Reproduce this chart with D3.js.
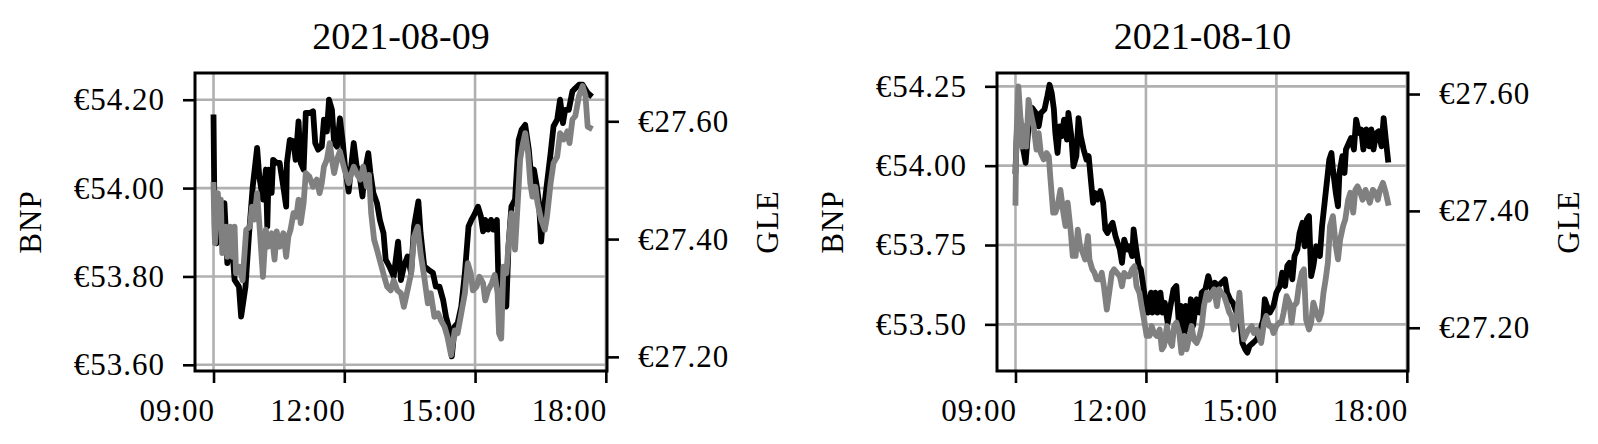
<!DOCTYPE html>
<html>
<head>
<meta charset="utf-8">
<script src="https://cdn.jsdelivr.net/npm/d3@7/dist/d3.min.js"></script>
<style>
  html, body { margin: 0; padding: 0; background: #fff; }
  svg { display: block; }
  text { font-family: "Liberation Serif", "Times New Roman", serif; fill: #000; }
</style>
</head>
<body>
<svg id="chart" width="1598" height="444"></svg>
<script>
// ---------- DATA ----------
const dates = ["2021-08-09", "2021-08-10"];
const seriesNames = ["BNP", "GLE"];
const timeTicks = ["09:00", "12:00", "15:00", "18:00"];
const bnpTicks1 = [53.60, 53.80, 54.00, 54.20];
const gleTicks1 = [27.20, 27.40, 27.60];
const bnpTicks2 = [53.50, 53.75, 54.00, 54.25];
const gleTicks2 = [27.20, 27.40, 27.60];

// minutes after 09:00 and prices, 2021-08-09
const bnp1Min = [0,1,4,9,15,19,24,29,35,38,44,49,54,60,63,68,72,74,76,80,82,87,91,96,100,101,105,110,113,117,120,124,127,133,137,140,144,149,152,156,159,163,166,170,174,178,181,186,189,193,197,200,205,208,213,216,220,225,229,234,237,242,248,254,258,262,267,272,276,282,285,290,296,302,306,311,316,320,325,328,332,336,341,346,351,355,359,364,368,371,374,378,382,385,390,392,396,403,406,410,415,420,424,429,434,438,441,445,448,451,454,459,464,468,473,477,481,484,489,494,498,503,508,512,515,518];
const bnp1 = [54.160,53.989,53.875,53.883,53.966,53.830,53.906,53.792,53.777,53.709,53.777,53.898,54.004,54.091,54.026,53.974,54.042,53.913,54.042,53.989,54.064,54.057,54.057,54.004,53.958,54.057,54.109,54.106,54.064,54.151,54.057,54.042,54.170,54.170,54.174,54.102,54.087,54.094,54.155,54.128,54.200,54.177,54.102,54.094,54.158,54.102,54.049,53.992,54.042,54.102,54.049,54.042,53.981,54.034,54.079,54.034,53.989,53.966,53.928,53.898,53.838,53.823,53.800,53.879,53.792,53.823,53.845,53.808,53.913,53.970,53.898,53.823,53.815,53.808,53.777,53.777,53.747,53.709,53.679,53.619,53.687,53.694,53.732,53.808,53.913,53.928,53.940,53.958,53.936,53.902,53.928,53.906,53.928,53.906,53.928,53.800,53.762,53.732,53.868,53.958,53.974,54.109,54.132,54.143,54.087,54.011,54.042,54.004,53.966,53.879,53.943,54.011,54.079,54.140,54.155,54.200,54.147,54.177,54.177,54.219,54.226,54.234,54.234,54.223,54.215,54.211];
const gle1Min = [0,1,2,6,8,10,12,17,19,23,26,29,31,36,40,45,50,53,56,60,64,68,72,75,80,84,87,91,96,100,103,106,110,114,117,120,124,127,132,137,142,146,149,152,156,160,163,166,170,174,178,181,186,190,193,198,202,206,211,214,217,221,225,230,235,239,244,248,253,258,262,267,272,276,281,285,290,295,299,304,309,313,318,322,327,332,336,341,346,350,354,357,362,366,371,374,378,383,387,391,393,396,399,403,407,410,415,419,422,425,429,433,436,439,443,446,451,456,459,464,468,473,477,482,487,490,494,498,503,508,512,515,518];
const gle1 = [27.492,27.427,27.393,27.478,27.421,27.467,27.376,27.421,27.370,27.421,27.370,27.421,27.342,27.353,27.330,27.416,27.421,27.455,27.433,27.478,27.410,27.336,27.416,27.387,27.410,27.365,27.413,27.387,27.410,27.370,27.404,27.416,27.444,27.438,27.467,27.427,27.461,27.512,27.506,27.489,27.501,27.478,27.495,27.523,27.535,27.563,27.535,27.512,27.535,27.549,27.529,27.515,27.495,27.512,27.523,27.509,27.501,27.523,27.489,27.509,27.444,27.399,27.382,27.359,27.336,27.319,27.313,27.330,27.313,27.308,27.285,27.313,27.342,27.404,27.421,27.376,27.336,27.291,27.308,27.268,27.274,27.262,27.251,27.234,27.203,27.245,27.240,27.274,27.308,27.359,27.342,27.313,27.319,27.336,27.325,27.296,27.313,27.325,27.339,27.308,27.240,27.231,27.353,27.342,27.404,27.444,27.382,27.467,27.535,27.557,27.580,27.546,27.495,27.472,27.489,27.461,27.433,27.416,27.438,27.495,27.529,27.540,27.580,27.569,27.583,27.563,27.603,27.609,27.643,27.660,27.643,27.591,27.589];

// minutes after 09:00 and prices, 2021-08-10
const bnp2Min = [0,2,6,9,14,18,23,28,32,35,40,44,47,50,53,55,58,61,64,67,71,73,77,80,84,87,90,94,98,101,104,107,110,113,117,121,124,127,131,134,138,141,144,147,150,154,157,161,163,166,170,173,177,180,183,187,189,193,196,200,203,206,210,213,218,222,225,228,232,235,239,242,245,250,254,257,262,266,271,275,280,284,289,292,296,300,305,310,313,317,320,323,328,333,337,342,344,347,351,356,358,360,365,368,372,375,378,382,385,389,392,396,399,402,405,408,411,415,420,423,427,430,433,436,438,442,445,447,451,454,456,460,463,467,470,474,477,480,484,488,491,494,498,501,505,508,511,514];
const bnp2 = [53.983,54.103,54.166,54.072,54.009,54.124,54.182,54.166,54.124,54.166,54.177,54.219,54.255,54.229,54.177,54.103,54.040,54.124,54.093,54.145,54.082,54.166,54.093,53.998,54.030,54.150,54.093,54.051,54.019,54.030,53.956,53.883,53.914,53.893,53.920,53.883,53.799,53.788,53.809,53.820,53.778,53.757,53.736,53.694,53.767,53.736,53.746,53.715,53.799,53.746,53.684,53.673,53.610,53.568,53.537,53.600,53.537,53.600,53.537,53.600,53.537,53.568,53.505,53.547,53.610,53.621,53.516,53.558,53.432,53.558,53.484,53.579,53.495,53.579,53.537,53.600,53.610,53.652,53.610,53.631,53.621,53.631,53.642,53.600,53.579,53.568,53.537,53.516,53.442,53.421,53.411,53.432,53.442,53.453,53.474,53.516,53.579,53.558,53.537,53.558,53.579,53.600,53.621,53.663,53.621,53.684,53.694,53.642,53.715,53.736,53.788,53.820,53.746,53.830,53.841,53.652,53.684,53.746,53.715,53.809,53.893,53.956,54.019,54.040,53.988,53.914,53.872,53.977,54.030,53.977,54.051,54.072,54.087,54.051,54.145,54.103,54.114,54.051,54.114,54.061,54.114,54.051,54.103,54.108,54.061,54.150,54.082,54.019];
const gle2Min = [0,1,4,7,9,12,15,18,22,25,29,32,35,39,43,46,48,52,55,58,62,66,69,72,76,79,83,86,89,93,96,100,102,106,109,112,116,119,122,126,130,133,136,140,144,147,150,154,157,161,164,167,171,174,178,181,185,188,191,195,199,202,205,209,212,216,219,222,226,229,233,236,240,243,246,250,254,257,260,264,267,271,274,278,281,284,288,291,295,298,301,305,309,312,315,319,322,326,329,333,336,339,343,346,350,353,356,360,364,367,370,374,378,381,384,388,391,395,398,401,405,408,411,415,419,422,425,428,431,434,438,442,445,448,452,455,459,462,466,469,472,476,479,483,486,489,493,497,500,503,507,511,514];
const gle2 = [27.414,27.516,27.613,27.556,27.510,27.545,27.510,27.590,27.562,27.545,27.505,27.533,27.499,27.488,27.499,27.493,27.459,27.397,27.397,27.408,27.436,27.397,27.374,27.414,27.368,27.323,27.323,27.368,27.340,27.328,27.317,27.357,27.317,27.300,27.294,27.283,27.283,27.294,27.271,27.231,27.266,27.294,27.300,27.294,27.288,27.271,27.294,27.288,27.288,27.300,27.305,27.271,27.260,27.237,27.209,27.186,27.186,27.203,27.191,27.186,27.197,27.163,27.169,27.203,27.180,27.169,27.203,27.209,27.191,27.157,27.186,27.163,27.186,27.203,27.180,27.174,27.186,27.203,27.237,27.260,27.248,27.260,27.266,27.237,27.266,27.260,27.254,27.243,27.226,27.220,27.197,27.214,27.260,27.209,27.180,27.191,27.197,27.203,27.191,27.197,27.186,27.174,27.209,27.220,27.203,27.203,27.191,27.203,27.209,27.209,27.226,27.254,27.243,27.209,27.237,27.243,27.271,27.294,27.300,27.214,27.197,27.209,27.243,27.226,27.214,27.226,27.260,27.283,27.311,27.374,27.391,27.340,27.317,27.351,27.374,27.385,27.419,27.431,27.397,27.436,27.442,27.431,27.419,27.436,27.425,27.414,27.436,27.431,27.419,27.436,27.448,27.431,27.414];

// ---------- PANEL SETTINGS ----------
const panels = [
  { date: dates[0], left: 195, right: 607, top: 73, bottom: 371,
    bnpMin: bnp1Min, bnp: bnp1, gleMin: gle1Min, gle: gle1,
    bnpDomain: [53.586, 54.2605], gleDomain: [27.176, 27.682],
    bnpTicks: bnpTicks1, gleTicks: gleTicks1 },
  { date: dates[1], left: 997, right: 1408, top: 73, bottom: 371,
    bnpMin: bnp2Min, bnp: bnp2, gleMin: gle2Min, gle: gle2,
    bnpDomain: [53.353, 54.292], gleDomain: [27.126, 27.636],
    bnpTicks: bnpTicks2, gleTicks: gleTicks2 }
];

const svg = d3.select("#chart");
const FS = 31;          // tick label font size
const TITLE_FS = 38;
const LW = 5.8;         // price line width
const euro = d3.format(".2f");

panels.forEach(p => {
  const day = d3.timeParse("%Y-%m-%d")(p.date);
  const at = m => new Date(day.getTime() + (9 * 60 + m) * 60000);
  const parseTick = s => { const [h, mm] = s.split(":").map(Number); return at((h - 9) * 60 + mm); };

  const x = d3.scaleTime().domain([at(-25.5), at(541.6)]).range([p.left, p.right]);
  const yL = d3.scaleLinear().domain(p.bnpDomain).range([p.bottom, p.top]);
  const yR = d3.scaleLinear().domain(p.gleDomain).range([p.bottom, p.top]);
  const xTickVals = timeTicks.map(parseTick);

  const g = svg.append("g");

  // grid
  const grid = g.append("g").attr("stroke", "#b0b0b0").attr("stroke-width", 2.6);
  grid.selectAll("line.gx").data(xTickVals).join("line")
    .attr("x1", d => x(d)).attr("x2", d => x(d))
    .attr("y1", p.top).attr("y2", p.bottom);
  grid.selectAll("line.gy").data(p.bnpTicks).join("line")
    .attr("x1", p.left).attr("x2", p.right)
    .attr("y1", d => yL(d)).attr("y2", d => yL(d));

  // lines
  const lineL = d3.line().x((d, i) => x(at(p.bnpMin[i]))).y(d => yL(d));
  const lineR = d3.line().x((d, i) => x(at(p.gleMin[i]))).y(d => yR(d));
  g.append("path").datum(p.bnp).attr("d", lineL)
    .attr("fill", "none").attr("stroke", "#000").attr("stroke-width", LW)
    .attr("stroke-linejoin", "round").attr("stroke-linecap", "square");
  g.append("path").datum(p.gle).attr("d", lineR)
    .attr("fill", "none").attr("stroke", "#808080").attr("stroke-width", LW)
    .attr("stroke-linejoin", "round").attr("stroke-linecap", "square");

  // axes
  const styleAxis = (sel) => {
    sel.select(".domain").remove();
    sel.selectAll(".tick line").attr("stroke", "#000").attr("stroke-width", 2.6);
    sel.selectAll(".tick text").style("font-size", FS + "px").style("letter-spacing", "1px");
  };
  const ax = g.append("g").attr("transform", `translate(0,${p.bottom})`)
    .call(d3.axisBottom(x).tickValues(xTickVals).tickFormat(d3.timeFormat("%H:%M"))
      .tickSize(12).tickPadding(16))
    .call(styleAxis);
  ax.selectAll(".tick text").attr("text-anchor", "end").attr("dx", "1");

  g.append("g").attr("transform", `translate(${p.left},0)`)
    .call(d3.axisLeft(yL).tickValues(p.bnpTicks).tickFormat(d => "€" + euro(d))
      .tickSize(12).tickPadding(18))
    .call(styleAxis);
  g.append("g").attr("transform", `translate(${p.right},0)`)
    .call(d3.axisRight(yR).tickValues(p.gleTicks).tickFormat(d => "€" + euro(d))
      .tickSize(12).tickPadding(19))
    .call(styleAxis);

  // frame
  g.append("rect").attr("x", p.left).attr("y", p.top)
    .attr("width", p.right - p.left).attr("height", p.bottom - p.top)
    .attr("fill", "none").attr("stroke", "#000").attr("stroke-width", 3);

  // title
  const cx = (p.left + p.right) / 2, cy = (p.top + p.bottom) / 2;
  g.append("text").attr("x", cx).attr("y", 49).attr("text-anchor", "middle")
    .style("font-size", TITLE_FS + "px").text(p.date);

  // axis labels
  g.append("text").attr("transform", `translate(${p.left - 165},${cy}) rotate(-90)`)
    .attr("text-anchor", "middle").attr("dy", "0.35em")
    .style("font-size", FS + "px").style("letter-spacing", "1px").text(seriesNames[0]);
  g.append("text").attr("transform", `translate(${p.right + 160},${cy}) rotate(-90)`)
    .attr("text-anchor", "middle").attr("dy", "0.35em")
    .style("font-size", FS + "px").style("letter-spacing", "1px").text(seriesNames[1]);
});
</script>
</body>
</html>
